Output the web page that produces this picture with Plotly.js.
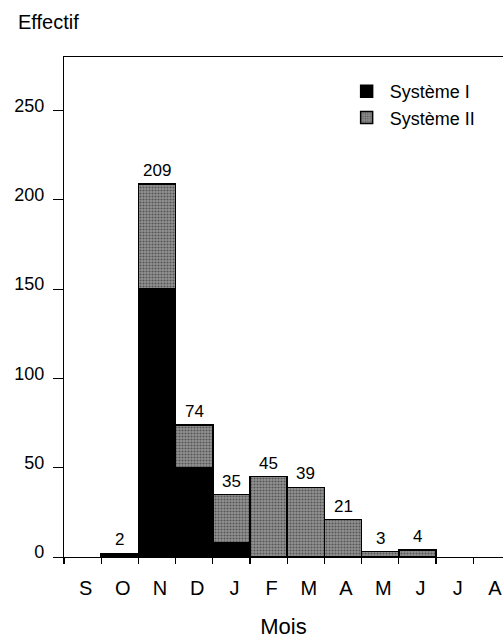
<!DOCTYPE html>
<html>
<head>
<meta charset="utf-8">
<script src="https://cdn.plot.ly/plotly-3.0.1.min.js"></script>
<style>html,body{margin:0;padding:0;background:#fff;}#chart{width:503px;height:639px;}</style>
</head>
<body>
<div id="chart"></div>
<script>
// Data
const months = ['S','O','N','D','J','F','M','A','M','J','J','A'];
const systemeI  = [0, 2, 150, 50, 8, 0, 0, 0, 0, 0, 0, 0];
const systemeII = [0, 0, 59, 24, 27, 45, 39, 21, 3, 4, 0, 0];
const yTicks = [0, 50, 100, 150, 200, 250];

const FONT = 'Liberation Sans, Arial, Helvetica, sans-serif';
const xIdx = months.map((m, i) => i);
const nz = arr => arr.map(v => (v === 0 ? null : v));
const totals = systemeI.map((v, i) => v + systemeII[i]);

const traces = [
  {
    type: 'bar', name: 'Système I', x: xIdx, y: nz(systemeI),
    width: 1, legendgroup: 'a',
    marker: {color: '#000000', line: {color: '#000000', width: 1.5}},
    hoverinfo: 'skip'
  },
  {
    type: 'bar', name: 'Système II', x: xIdx, y: nz(systemeII),
    width: 1, legendgroup: 'b',
    marker: {
      color: '#8a8a8a',
      line: {color: '#000000', width: 1.5},
      pattern: {shape: '.', fillmode: 'replace', bgcolor: '#939393', fgcolor: '#555555', size: 3, solidity: 0.4}
    },
    hoverinfo: 'skip'
  }
];

const annotations = [];
totals.forEach((t, i) => {
  if (t > 0) {
    annotations.push({
      x: xIdx[i], y: t, xref: 'x', yref: 'y', text: String(t),
      showarrow: false, yanchor: 'bottom', yshift: 2,
      font: {family: FONT, size: 17, color: '#000'}
    });
  }
});
annotations.push({
  xref: 'paper', yref: 'paper', x: -0.11, y: 1, xanchor: 'left', yanchor: 'middle',
  yshift: 35, text: 'Effectif', showarrow: false,
  font: {family: FONT, size: 20, color: '#000'}
});

const layout = {
  width: 503, height: 639,
  margin: {l: 64, r: 0, t: 57, b: 82},
  paper_bgcolor: '#ffffff', plot_bgcolor: '#ffffff',
  barmode: 'stack', bargap: 0,
  font: {family: FONT, color: '#000'},
  showlegend: true,
  legend: {
    x: 0.637, y: 0.968, xanchor: 'left', yanchor: 'top',
    font: {family: FONT, size: 18, color: '#000'},
    itemwidth: 36,
    traceorder: 'normal', tracegroupgap: 8, bgcolor: 'rgba(0,0,0,0)'
  },
  xaxis: {
    range: [-0.5, 11.3],
    tickmode: 'array', tickvals: xIdx, ticktext: months,
    ticks: '', ticklabelshift: 3, ticklabelstandoff: 13,
    tickfont: {family: FONT, size: 20, color: '#000'},
    minor: {tickmode: 'linear', tick0: -0.5, dtick: 1, ticks: 'outside', ticklen: 6, tickwidth: 1.2, tickcolor: '#000', showgrid: false},
    showline: true, linecolor: '#000', linewidth: 1.2, mirror: true,
    showgrid: false, zeroline: false,
    title: {text: 'Mois', font: {family: FONT, size: 22, color: '#000'}, standoff: 22}
  },
  yaxis: {
    range: [0, 280],
    tickmode: 'array', tickvals: yTicks,
    ticks: 'outside', ticklen: 10, tickwidth: 1, tickcolor: '#000',
    ticklabelstandoff: 5, ticklabelshift: -5,
    tickfont: {family: FONT, size: 18, color: '#000'},
    showline: true, linecolor: '#000', linewidth: 1.2,
    showgrid: false, zeroline: false
  },
  annotations: annotations
};

Plotly.newPlot('chart', traces, layout, {staticPlot: true, displayModeBar: false});
</script>
</body>
</html>
